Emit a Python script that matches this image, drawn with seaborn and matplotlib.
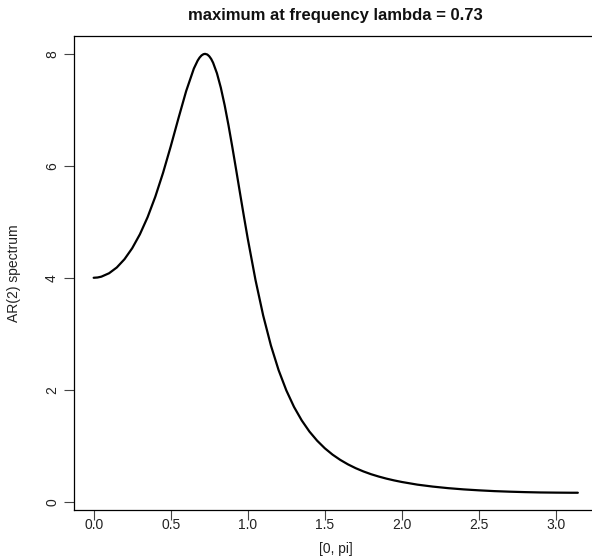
import numpy as np
import pandas as pd
import matplotlib
matplotlib.use("Agg")
import matplotlib.pyplot as plt
import seaborn as sns

sns.set_theme(style="white")
plt.rcParams['font.family'] = ['Liberation Sans', 'DejaVu Sans']

# frequencies on [0, pi] and the AR(2) spectrum
freq = [0.00, 0.025, 0.05, 0.10, 0.15, 0.20, 0.25, 0.30, 0.35, 0.40, 0.45,
        0.50, 0.55, 0.60, 0.65, 0.675, 0.6875, 0.70, 0.7125, 0.7227, 0.7375,
        0.75, 0.7625, 0.775, 0.80, 0.825, 0.85, 0.875, 0.90, 0.925, 0.95,
        0.975, 1.00, 1.05, 1.10, 1.15, 1.20, 1.25, 1.30, 1.35, 1.40,
        1.45, 1.50, 1.55, 1.60, 1.65, 1.70, 1.75, 1.80, 1.85, 1.90,
        1.95, 2.00, 2.10, 2.20, 2.30, 2.40, 2.50, 2.60, 2.70, 2.80,
        2.90, 3.00, 3.10, 3.1416]
spectrum = [4.000, 4.005, 4.020, 4.081, 4.184, 4.332, 4.528, 4.777, 5.083, 5.449, 5.873,
            6.347, 6.848, 7.334, 7.737, 7.881, 7.934, 7.972, 7.994, 8.000, 7.988,
            7.957, 7.909, 7.841, 7.652, 7.396, 7.082, 6.722, 6.330, 5.921, 5.505,
            5.094, 4.696, 3.961, 3.325, 2.791, 2.350, 1.989, 1.693, 1.452, 1.253,
            1.090, 0.954, 0.841, 0.747, 0.667, 0.599, 0.541, 0.491, 0.449, 0.412,
            0.380, 0.352, 0.305, 0.270, 0.242, 0.220, 0.203, 0.189, 0.179, 0.171,
            0.165, 0.162, 0.160, 0.160]

xticks = [0.0, 0.5, 1.0, 1.5, 2.0, 2.5, 3.0]
yticks = [0, 2, 4, 6, 8]

df = pd.DataFrame({"freq": freq, "spectrum": spectrum})

fig = plt.figure(figsize=(5.92, 5.57), dpi=100)
# axes box runs past the right edge, as in the cropped original
ax = fig.add_axes([74.3 / 592, 1 - 510.3 / 557, (597.2 - 74.3) / 592, (510.3 - 36.3) / 557])

sns.lineplot(data=df, x="freq", y="spectrum", color="black", linewidth=1.6, ax=ax)

ax.set_xlim(-0.1257, 3.2673)
ax.set_ylim(-0.1536, 8.3136)
ax.set_xticks(xticks)
ax.set_xticklabels([f"{t:.1f}" for t in xticks])
ax.set_yticks(yticks)
ax.set_yticklabels([str(t) for t in yticks], rotation=90, va="center")

for s in ax.spines.values():
    s.set_color("black")
    s.set_linewidth(0.9)
ax.spines["right"].set_visible(False)

ax.tick_params(axis="both", direction="out", length=7, width=0.8, color="#444444",
               labelsize=10, labelcolor="#222222")
ax.tick_params(axis="x", pad=-1.5, bottom=True)
ax.tick_params(axis="y", pad=4, left=True)

ax.set_xlabel("[0, pi]", fontsize=10, color="#222222")
ax.set_ylabel("AR(2) spectrum", fontsize=10, color="#222222")
ax.xaxis.set_label_coords(0.5, -(549 - 510.3) / (510.3 - 36.3))
ax.xaxis.label.set_verticalalignment("center")
ax.yaxis.set_label_coords((14 - 74.3) / (597.2 - 74.3), 0.5)
ax.yaxis.label.set_verticalalignment("center")

ax.set_title("maximum at frequency lambda = 0.73", fontsize=12, fontweight="bold",
             color="#111111", pad=12)

fig.savefig("out.png", dpi=100)
